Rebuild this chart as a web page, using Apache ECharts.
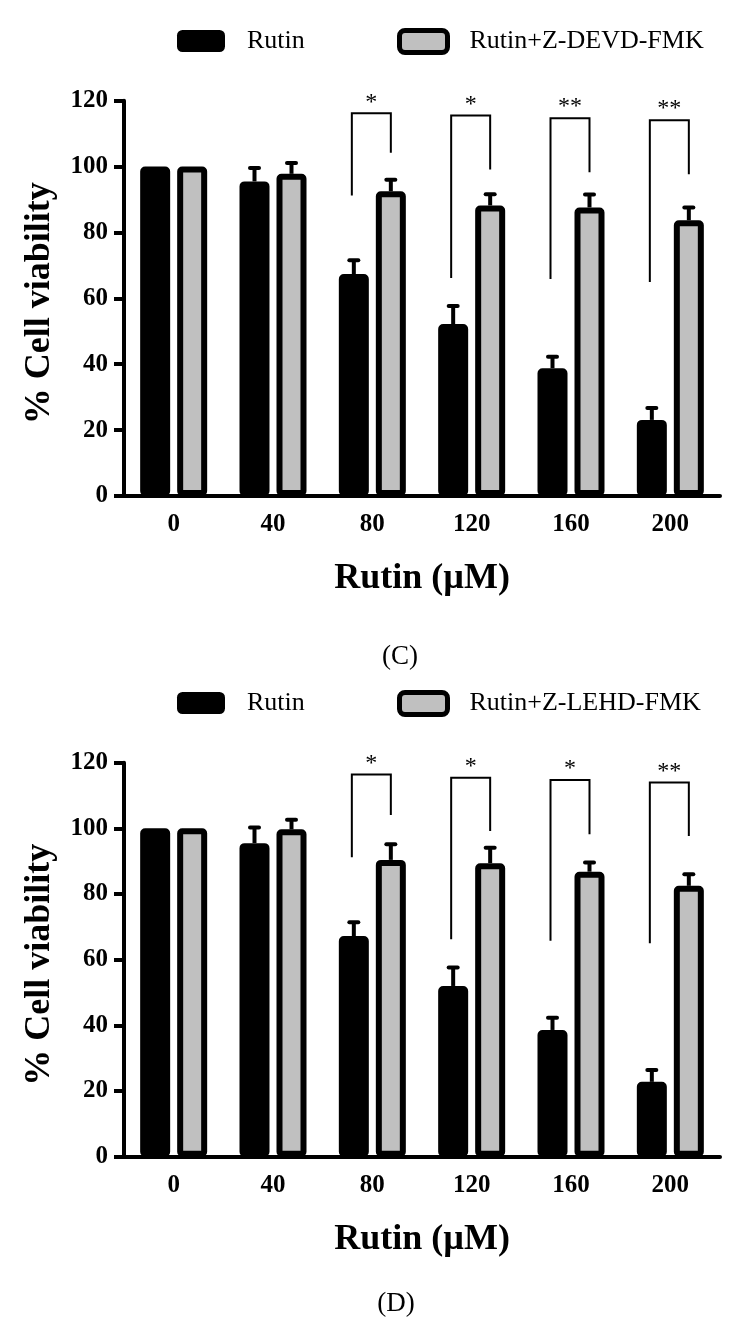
<!DOCTYPE html>
<html>
<head>
<meta charset="utf-8">
<script src="https://cdn.jsdelivr.net/npm/echarts@6.0.0/dist/echarts.min.js"></script>
<style>
html,body{margin:0;padding:0;background:#fff;}
#chart{width:738px;height:1334px;}
</style>
</head>
<body>
<div id="chart"></div>
<script>
// ---------- data ----------
const categories = ['0', '40', '80', '120', '160', '200'];

// Panel C
const rutinC = [100, 95.5, 67.4, 52.2, 38.8, 23.1];
const rutinErrC = [0, 4.1, 4.2, 5.5, 3.5, 3.6];
const devdC = [100, 97.8, 92.5, 88.2, 87.6, 83.7];
const devdErrC = [0, 3.3, 3.5, 3.4, 3.9, 3.9];
const sigCatC = [2, 3, 4, 5];
const sigTopC = [116.2, 115.5, 114.7, 114.1];
const sigLeftEndC = [91.2, 66.2, 65.9, 65.0];
const sigRightEndC = [104.2, 99.1, 98.3, 97.7];
const sigMarkC = ['*', '*', '**', '**'];

// Panel D
const rutinD = [100, 95.5, 67.2, 52.0, 38.6, 22.8];
const rutinErrD = [0, 4.8, 4.2, 5.6, 3.7, 3.6];
const lehdD = [100, 99.7, 90.4, 89.4, 86.8, 82.5];
const lehdErrD = [0, 2.9, 4.8, 4.7, 2.8, 3.5];
const sigCatD = [2, 3, 4, 5];
const sigTopD = [116.4, 115.4, 114.7, 114.0];
const sigLeftEndD = [91.2, 66.2, 65.8, 65.0];
const sigRightEndD = [104.1, 99.2, 98.2, 97.7];
const sigMarkD = ['*', '*', '*', '**'];

const yTicks = { min: 0, max: 120, interval: 20 };

// ---------- style ----------
const SERIF = '"Liberation Serif", "Times New Roman", serif';
const BAR_W = 30;
const BAR_BORDER = 6;
const BAR_GAP_PX = 7;
const OFF = (BAR_W + BAR_GAP_PX) / 2;
const GRAY = '#c0c0c0';

function makeX(gi) {
  return {
    type: 'category', gridIndex: gi, data: categories, boundaryGap: true,
    axisLine: { lineStyle: { color: '#000', width: 4 } },
    axisTick: { alignWithLabel: true, length: 10, lineStyle: { color: '#000', width: 4 } },
    axisLabel: { color: '#000', fontFamily: SERIF, fontWeight: 'bold', fontSize: 25, margin: 16 },
    name: 'Rutin (µM)', nameLocation: 'middle', nameGap: 65,
    nameTextStyle: { color: '#000', fontFamily: SERIF, fontWeight: 'bold', fontSize: 36 }
  };
}
function makeY(gi) {
  return {
    type: 'value', gridIndex: gi, min: yTicks.min, max: yTicks.max, interval: yTicks.interval,
    splitLine: { show: false },
    axisLine: { show: true, lineStyle: { color: '#000', width: 4 } },
    axisTick: { show: true, length: 10, lineStyle: { color: '#000', width: 4 } },
    axisLabel: { color: '#000', fontFamily: SERIF, fontWeight: 'bold', fontSize: 25, margin: 16 },
    name: '% Cell viability', nameLocation: 'middle', nameRotate: 90, nameGap: 66,
    nameTextStyle: { color: '#000', fontFamily: SERIF, fontWeight: 'bold', fontSize: 36, padding: [0, 10, 0, 0] }
  };
}
function barSeries(name, data, fill, gi) {
  return {
    name: name, type: 'bar', xAxisIndex: gi, yAxisIndex: gi, data: data,
    barWidth: BAR_W, barGap: (BAR_GAP_PX / BAR_W * 100) + '%',
    itemStyle: { color: fill, borderColor: '#000', borderWidth: BAR_BORDER, borderRadius: 2, borderJoin: 'round' },
    z: 2
  };
}
function errSeries(vals, errs, side, gi) {
  return {
    type: 'custom', xAxisIndex: gi, yAxisIndex: gi, z: 5, silent: true,
    data: vals.map((v, i) => [i, v, errs[i]]),
    encode: { x: 0, y: 1 },
    renderItem: function (params, api) {
      const i = api.value(0), v = api.value(1), e = api.value(2);
      if (!e) return null;
      const base = api.coord([i, v]);
      const top = api.coord([i, v + e]);
      const x = base[0] + side * OFF;
      return {
        type: 'group', children: [
          { type: 'line', shape: { x1: x, y1: base[1], x2: x, y2: top[1] }, style: { stroke: '#000', lineWidth: 4 } },
          { type: 'line', shape: { x1: x - 4.5, y1: top[1], x2: x + 4.5, y2: top[1] }, style: { stroke: '#000', lineWidth: 4, lineCap: 'round' } }
        ]
      };
    }
  };
}
function sigSeries(cats, tops, lefts, rights, marks, gi) {
  return {
    type: 'custom', xAxisIndex: gi, yAxisIndex: gi, z: 5, silent: true,
    data: cats.map((c, k) => [c, tops[k], lefts[k], rights[k]]),
    encode: { x: 0, y: 1 },
    renderItem: function (params, api) {
      const c = api.value(0);
      const pt = api.coord([c, api.value(1)]);
      const pl = api.coord([c, api.value(2)]);
      const pr = api.coord([c, api.value(3)]);
      const xl = pt[0] - OFF - 2, xr = pt[0] + OFF;
      return {
        type: 'group', children: [
          { type: 'polyline', shape: { points: [[xl, pl[1]], [xl, pt[1]], [xr, pt[1]], [xr, pr[1]]] },
            style: { stroke: '#000', lineWidth: 2, fill: null } },
          { type: 'text', x: (xl + xr) / 2, y: pt[1] - 11,
            style: { text: marks[params.dataIndex], fill: '#000', font: '24px ' + SERIF, align: 'center', verticalAlign: 'middle' } }
        ]
      };
    }
  };
}
function legendItem(name, left, top, bw) {
  return {
    data: [name], left: left, top: top, padding: 0, itemWidth: 48, itemHeight: 22, icon: 'roundRect',
    itemStyle: { borderColor: '#000', borderWidth: bw },
    textStyle: { color: '#000', fontFamily: SERIF, fontSize: 26, padding: [0, 0, 0, 17] },
    selectedMode: false
  };
}

const option = {
  animation: false,
  backgroundColor: '#fff',
  grid: [
    { left: 124, top: 100.7, width: 596, height: 395.3 },
    { left: 124, top: 762.7, width: 596, height: 394 }
  ],
  legend: [
    legendItem('Rutin', 177, 28, 0),
    legendItem('Rutin+Z-DEVD-FMK', 397, 28, 5),
    legendItem('Rutin', 177, 690, 0),
    legendItem('Rutin+Z-LEHD-FMK', 397, 690, 5)
  ],
  xAxis: [makeX(0), makeX(1)],
  yAxis: [makeY(0), makeY(1)],
  series: [
    barSeries('Rutin', rutinC, '#000', 0),
    barSeries('Rutin+Z-DEVD-FMK', devdC, GRAY, 0),
    errSeries(rutinC, rutinErrC, -1, 0),
    errSeries(devdC, devdErrC, 1, 0),
    sigSeries(sigCatC, sigTopC, sigLeftEndC, sigRightEndC, sigMarkC, 0),
    barSeries('Rutin', rutinD, '#000', 1),
    barSeries('Rutin+Z-LEHD-FMK', lehdD, GRAY, 1),
    errSeries(rutinD, rutinErrD, -1, 1),
    errSeries(lehdD, lehdErrD, 1, 1),
    sigSeries(sigCatD, sigTopD, sigLeftEndD, sigRightEndD, sigMarkD, 1)
  ],
  graphic: [
    { type: 'text', x: 400, y: 657, style: { text: '(C)', fill: '#000', font: '27px ' + SERIF, align: 'center', verticalAlign: 'middle' } },
    { type: 'text', x: 396, y: 1304, style: { text: '(D)', fill: '#000', font: '27px ' + SERIF, align: 'center', verticalAlign: 'middle' } }
  ]
};

const chart = echarts.init(document.getElementById('chart'), null, { renderer: 'canvas' });
chart.setOption(option);
</script>
</body>
</html>
